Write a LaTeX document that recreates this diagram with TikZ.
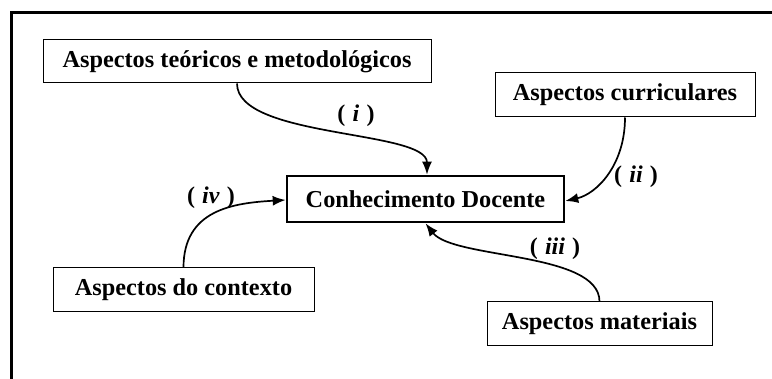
\documentclass[tikz,border=0pt]{standalone}
\usepackage{fontspec}
\setmainfont{Liberation Serif}
\usetikzlibrary{arrows.meta}
\begin{document}
\begin{tikzpicture}[x=1pt,y=-1pt,
  thinbox/.style={draw=black,line width=1pt,fill=white,inner sep=0pt,font=\fontsize{24.3}{28}\selectfont\bfseries},
  mainbox/.style={draw=black,line width=2.6pt,fill=white,inner sep=0pt,font=\fontsize{24.3}{28}\selectfont\bfseries},
  conn/.style={line width=1.7pt,-{Latex[length=13pt,width=10pt]}},
  lbl/.style={font=\fontsize{24}{28}\selectfont\bfseries,inner sep=0pt}]
\useasboundingbox (0,0) rectangle (772,379);
\draw[line width=3pt] (11,380) coordinate (fb) -- (11,13) coordinate (fc) -- (773,13) coordinate (fr);
\node[thinbox,minimum width=388pt,minimum height=43pt] (A) at (237,61.5) {Aspectos teóricos e metodológicos};
\node[thinbox,minimum width=260pt,minimum height=44pt] (B) at (625,95) {Aspectos curriculares};
\node[mainbox,minimum width=277pt,minimum height=46pt] (K) at (425.5,199) {Conhecimento Docente};
\node[thinbox,minimum width=261pt,minimum height=44pt] (C) at (183.5,290) {Aspectos do contexto};
\node[thinbox,minimum width=225pt,minimum height=44pt] (D) at (599.5,324) {Aspectos materiais};
\coordinate (Ki) at ([xshift=1.5pt]K.north);
\coordinate (Kii) at ([yshift=-2pt]K.east);
\coordinate (Kiii) at (K.south);
\coordinate (Kiv) at ([yshift=-1pt]K.west);
\draw[conn] (A.south) .. controls +(0,55) and +(0,-45) .. (Ki);
\draw[conn] (B.south) .. controls +(0,48) and +(31,-7) .. (Kii);
\draw[conn] (D.north) .. controls +(0,-50) and +(28,36) .. (Kiii);
\draw[conn] (C.north) .. controls +(0,-58) and +(-52,3) .. (Kiv);
\node[lbl] (li) at (356,116) {(\hspace{0.3em}\textit{i}\hspace{0.3em})};
\node[lbl] (lii) at (636,177) {(\hspace{0.3em}\textit{ii}\hspace{0.3em})};
\node[lbl] (liii) at (555,249) {(\hspace{0.3em}\textit{iii}\hspace{0.3em})};
\node[lbl] (liv) at (211,198) {(\hspace{0.3em}\textit{iv}\hspace{0.3em})};
\end{tikzpicture}
\end{document}
